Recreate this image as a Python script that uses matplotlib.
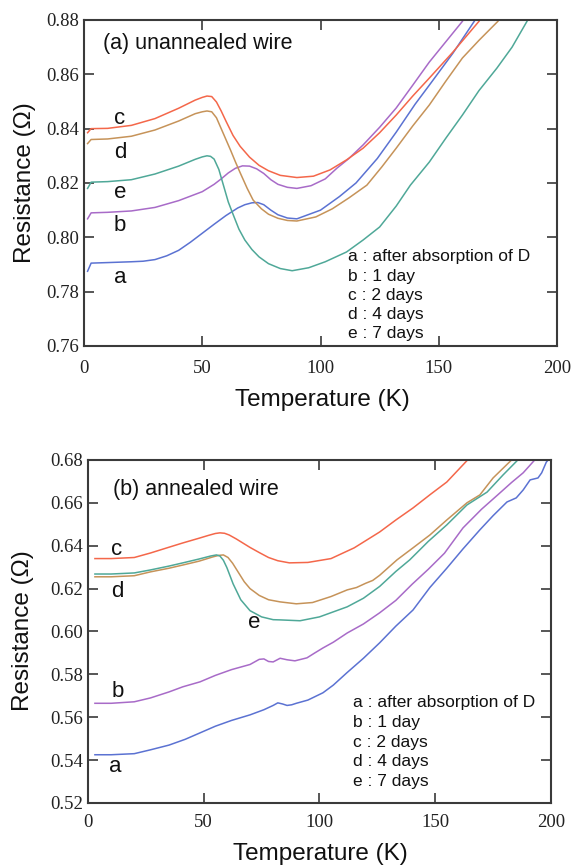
#resistance vs temperature, unannealed / annealed wire

import matplotlib
matplotlib.use('Agg')
import matplotlib.pyplot as plt

# ---- (a) unannealed wire ----
Ta_a = [1.5, 3, 10, 20, 25, 30, 35, 40, 45, 50, 55, 60, 65, 68, 71, 73.5, 76, 79, 82, 86, 90, 100, 108, 115, 124,
        132, 140, 146, 156, 165]
Ra_a = [0.7875, 0.7905, 0.7907, 0.791, 0.7912, 0.7918, 0.7932, 0.7952, 0.7982, 0.8015, 0.8048, 0.8080, 0.8108,
        0.8120, 0.8127, 0.8128, 0.8120, 0.8100, 0.8083, 0.8071, 0.8068, 0.8100, 0.8150, 0.8200, 0.829, 0.8387,
        0.849, 0.856, 0.8678, 0.8795]

Ta_b = [1.5, 3, 10, 20, 30, 40, 50, 55, 58, 61, 64, 67, 70, 73, 76, 79, 82, 86, 90, 96, 102, 107, 112, 118, 125,
        132, 139, 146, 153, 160]
Ra_b = [0.8068, 0.809, 0.8092, 0.8097, 0.811, 0.8135, 0.8168, 0.8195, 0.8215, 0.8237, 0.8254, 0.8263, 0.8262,
        0.8252, 0.8235, 0.8212, 0.8195, 0.8184, 0.818, 0.819, 0.8215, 0.8255, 0.829, 0.834, 0.8405, 0.8476, 0.856,
        0.8645, 0.872, 0.8795]

Ta_c = [1.5, 3, 10, 20, 30, 40, 47, 50, 52, 54, 56, 58, 60, 63, 66, 70, 74, 78, 83, 90, 97, 104, 111, 118, 125,
        132, 139, 146, 156, 167]
Ra_c = [0.8385, 0.8400, 0.8401, 0.8412, 0.8437, 0.8475, 0.8505, 0.8515, 0.852, 0.8518, 0.8498, 0.8465, 0.8428,
        0.8375, 0.8335, 0.8295, 0.8265, 0.8245, 0.8228, 0.822, 0.8225, 0.8248, 0.8285, 0.8328, 0.8385, 0.845,
        0.852, 0.8586, 0.8682, 0.8795]

Ta_d = [1.5, 3, 10, 20, 30, 40, 47, 50, 52, 54, 56, 58, 60, 62, 64, 66, 69, 71.5, 75, 78, 82, 86, 90, 98, 105, 112,
        119.6, 126, 132, 139, 146, 153, 160, 167, 175]
Ra_d = [0.8345, 0.836, 0.8362, 0.8372, 0.8395, 0.8428, 0.8455, 0.8462, 0.8465, 0.8462, 0.8440, 0.8400, 0.8360,
        0.832, 0.8278, 0.8238, 0.8180, 0.8137, 0.8105, 0.8085, 0.807, 0.8062, 0.806, 0.8075, 0.8105, 0.8145,
        0.8192, 0.826, 0.8328, 0.841, 0.8487, 0.8575, 0.866, 0.8725, 0.8795]

Ta_e = [1.5, 3, 10, 20, 30, 40, 47, 50, 52, 53.5, 55, 57, 59, 61, 63, 65.5, 68, 71, 74, 78, 83, 88, 95, 102, 111,
        118, 125, 132, 138, 146, 153, 160, 167, 174.6, 181, 187.3]
Ra_e = [0.818, 0.8203, 0.8205, 0.8212, 0.8233, 0.8262, 0.8287, 0.8296, 0.8300, 0.8298, 0.8288, 0.8250, 0.8190,
        0.8130, 0.8085, 0.8030, 0.7990, 0.7955, 0.7928, 0.7903, 0.7885, 0.7877, 0.7888, 0.791, 0.7946, 0.799,
        0.8038, 0.8115, 0.8192, 0.8277, 0.8365, 0.845, 0.854, 0.8623, 0.870, 0.8795]

# ---- (b) annealed wire ----
Tb_a = [3, 10, 20, 27, 35, 42, 48.4, 55, 62, 70, 76, 80, 82, 84, 86, 88, 90, 95, 101.5, 106, 111.8, 119, 126, 133,
        140.4, 147.7, 155, 162, 169.3, 175, 181, 185, 188, 191, 194.4, 196, 198, 199.6]
Rb_a = [0.5425, 0.5425, 0.543, 0.5448, 0.547, 0.5497, 0.5527, 0.5558, 0.5585, 0.5611, 0.5635, 0.5655, 0.5667, 0.5662,
        0.5655, 0.5658, 0.5665, 0.568, 0.5714, 0.575, 0.5807, 0.5875, 0.5947, 0.6025, 0.610, 0.6205, 0.6295, 0.6385,
        0.6474, 0.654, 0.6604, 0.6623, 0.666, 0.6707, 0.6716, 0.674, 0.679, 0.681]

Tb_b = [3, 10, 20, 27, 35, 41, 48.4, 55, 62, 70, 74, 76, 78, 80, 83, 86, 89.4, 94.6, 98, 101.5, 106, 112, 119, 126,
        133, 140, 147, 154, 162, 170, 177, 183, 188, 193]
Rb_b = [0.5665, 0.5665, 0.5672, 0.569, 0.5718, 0.5742, 0.5765, 0.5795, 0.5822, 0.5846, 0.5870, 0.5872, 0.586, 0.5858,
        0.5875, 0.5868, 0.5863, 0.5877, 0.590, 0.5923, 0.595, 0.5993, 0.6035, 0.6087, 0.6145, 0.622, 0.629, 0.6365,
        0.6483, 0.657, 0.6637, 0.6695, 0.674, 0.680]

Tb_c = [3, 10, 20, 27, 35, 41, 48, 52, 55, 57, 59, 61, 64, 67, 70, 74, 78, 82, 87, 95, 105, 115, 126, 133, 140.4,
        148, 155, 164]
Rb_c = [0.634, 0.634, 0.6345, 0.6366, 0.6393, 0.6413, 0.6435, 0.6448, 0.6457, 0.646, 0.6458, 0.6450, 0.6432, 0.6412,
        0.6392, 0.6368, 0.6345, 0.633, 0.632, 0.6322, 0.634, 0.639, 0.6464, 0.652, 0.6576, 0.664, 0.6697, 0.680]

Tb_d = [3, 10, 20, 27, 35, 41, 48, 54, 56.5, 58.5, 60.5, 62.5, 65, 67.5, 70, 74, 78, 83, 90, 97, 105, 112, 116, 120,
        123, 126, 133.5, 140.4, 147.7, 155, 163.7, 169.3, 175, 183]
Rb_d = [0.6255, 0.6255, 0.626, 0.6278, 0.6295, 0.631, 0.6328, 0.6348, 0.6355, 0.6357, 0.6345, 0.6318, 0.6275, 0.6232,
        0.6200, 0.6168, 0.6148, 0.6138, 0.6129, 0.6135, 0.6163, 0.6194, 0.6205, 0.6225, 0.6238, 0.6262, 0.6334,
        0.639, 0.645, 0.652, 0.66, 0.6637, 0.6716, 0.680]

Tb_e = [3, 10, 20, 27, 35, 41, 48, 53, 55.5, 57, 58.5, 60, 62.7, 66, 70, 75, 80, 83, 91.6, 100, 112, 119, 126, 133,
        139, 147, 155, 163.7, 172.4, 179.3, 185.7]
Rb_e = [0.6268, 0.6268, 0.6273, 0.6287, 0.6305, 0.632, 0.6338, 0.6352, 0.6357, 0.6352, 0.6332, 0.6298, 0.6222,
        0.6148, 0.6097, 0.6068, 0.6055, 0.6054, 0.605, 0.6068, 0.6115, 0.6155, 0.621, 0.628, 0.6334, 0.642, 0.6497,
        0.659, 0.665, 0.673, 0.680]

curve_names = ['a', 'b', 'c', 'd', 'e']
curve_colors = ['#5b72d2', '#a86bc8', '#f4674a', '#c69359', '#4fa898']
legend_lines = ['a : after absorption of D', 'b : 1 day', 'c : 2 days', 'd : 4 days', 'e : 7 days']

# curve letters written next to the curves (T, R)
lab_a = {'c': (15.2, 0.8439), 'd': (15.2, 0.8313), 'e': (15.2, 0.8165), 'b': (15.2, 0.8045), 'a': (15.2, 0.7853)}
lab_b = {'c': (12.5, 0.638), 'd': (12.5, 0.6185), 'e': (72, 0.604), 'b': (13, 0.5718), 'a': (11.7, 0.5369)}

sans = 'Liberation Sans'
serif = 'Liberation Serif'
frame = '#3a3a3a'


def setup_axes(ax, ylim, yticks, xpad):
    ax.set_xlim(0, 200)
    ax.set_ylim(*ylim)
    ax.set_xticks([0, 50, 100, 150, 200])
    ax.set_yticks(yticks)
    ax.set_yticklabels(['%.2f' % v for v in yticks])
    for s in ax.spines.values():
        s.set_color(frame)
        s.set_linewidth(1.5)
    ax.tick_params(direction='in', length=7, width=1.2, color=frame,
                   top=True, right=True, labelsize=13.5, labelcolor='#222222')
    ax.tick_params(axis='x', pad=xpad)
    ax.tick_params(axis='y', pad=3.5)
    for lbl in ax.get_xticklabels() + ax.get_yticklabels():
        lbl.set_family(serif)


def draw_panel(ax, curves, labels, title, tpos, legpos, legstep):
    for (T, R), name, col in zip(curves, curve_names, curve_colors):
        ax.plot(T, R, color=col, lw=1.1, clip_on=True, solid_joinstyle='round')
        x, y = labels[name]
        ax.text(x, y, name, family=sans, fontsize=16, ha='center', va='center', color='#111111')
    ax.text(tpos[0], tpos[1], title, transform=ax.transAxes, family=sans, fontsize=15.5,
            ha='left', va='center', color='#111111')
    for i, line in enumerate(legend_lines):
        ax.text(legpos[0], legpos[1] - i * legstep, line, transform=ax.transAxes, family=sans,
                fontsize=12.5, ha='left', va='center', color='#111111')


def main():
    fig = plt.figure(figsize=(5.72, 8.68), dpi=100)

    ax1 = fig.add_axes([0.1469, 0.6014, 0.8269, 0.3756])
    setup_axes(ax1, (0.76, 0.88), [0.76, 0.78, 0.80, 0.82, 0.84, 0.86, 0.88], 10)
    draw_panel(ax1, [(Ta_a, Ra_a), (Ta_b, Ra_b), (Ta_c, Ra_c), (Ta_d, Ra_d), (Ta_e, Ra_e)],
               lab_a, '(a) unannealed wire', (0.040, 0.929), (0.558, 0.273), 0.0589)

    ax2 = fig.add_axes([0.1538, 0.0749, 0.8094, 0.3952])
    setup_axes(ax2, (0.52, 0.68), [0.52, 0.54, 0.56, 0.58, 0.60, 0.62, 0.64, 0.66, 0.68], 8)
    draw_panel(ax2, [(Tb_a, Rb_a), (Tb_b, Rb_b), (Tb_c, Rb_c), (Tb_d, Rb_d), (Tb_e, Rb_e)],
               lab_b, '(b) annealed wire', (0.054, 0.9125), (0.572, 0.2915), 0.0569)

    #axis titles
    fig.text(25 / 572, 1 - 183 / 868, 'Resistance (\u03a9)', rotation=90, family=sans, fontsize=17.5,
             ha='center', va='center', color='#111111')
    fig.text(23 / 572, 1 - 631 / 868, 'Resistance (\u03a9)', rotation=90, family=sans, fontsize=17.5,
             ha='center', va='center', color='#111111')
    fig.text(322 / 572, 1 - 400 / 868, 'Temperature (K)', family=sans, fontsize=17.5,
             ha='center', va='center', color='#111111')
    fig.text(320 / 572, 1 - 854 / 868, 'Temperature (K)', family=sans, fontsize=17.5,
             ha='center', va='center', color='#111111')

    fig.savefig('out.png', dpi=100)


if __name__ == "__main__":
    main()
